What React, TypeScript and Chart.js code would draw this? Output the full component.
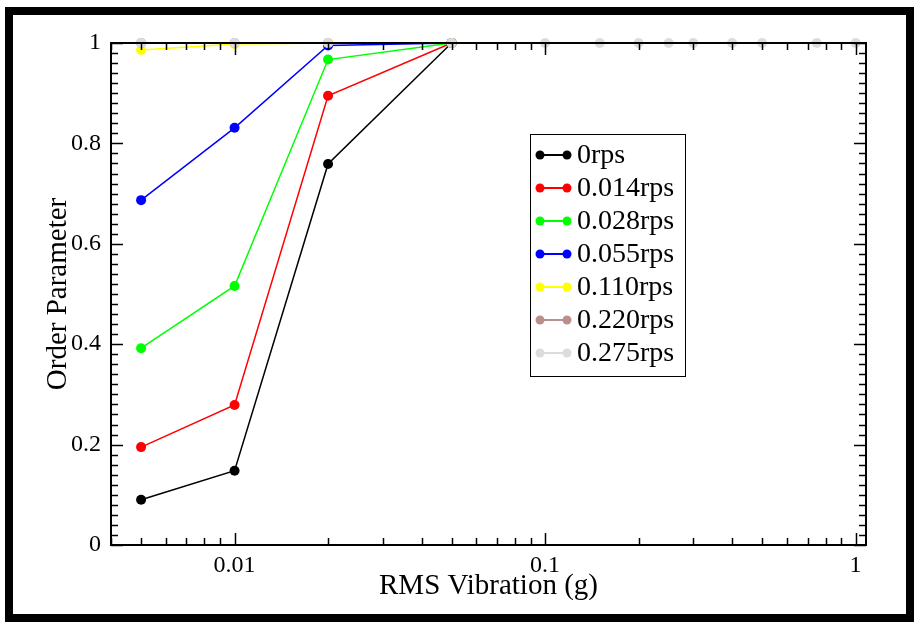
import React, { useEffect, useRef } from "react";
import { Chart, registerables } from "chart.js";

Chart.register(...registerables);

// ---- data ----
const xShort = [0.005, 0.01, 0.02, 0.05];
const xFull = [0.005, 0.01, 0.02, 0.05, 0.1, 0.15, 0.2, 0.25, 0.3, 0.4, 0.5, 0.75, 1.0];

const seriesLabels = ["0rps", "0.014rps", "0.028rps", "0.055rps", "0.110rps", "0.220rps", "0.275rps"];
const seriesColors = ["#000000", "#ff0000", "#00ff00", "#0000ff", "#ffff00", "#bc8f8f", "#dcdcdc"];

const rps0 = [0.09, 0.148, 0.759, 1.0];
const rps014 = [0.195, 0.279, 0.895, 1.0];
const rps028 = [0.392, 0.516, 0.967, 1.0];
const rps055 = [0.687, 0.831, 0.995, 1.0];
const rps110 = [0.986, 0.998, 1.0, 1.0];
const rps220 = [1.0, 1.0, 1.0, 1.0];
const rps275 = [1.0, 1.0, 1.0, 1.0, 1.0, 1.0, 1.0, 1.0, 1.0, 1.0, 1.0, 1.0, 1.0];

const xMajorTicks = [0.01, 0.1, 1];
const xMinorTicks = [
  0.004, 0.005, 0.006, 0.007, 0.008, 0.009,
  0.02, 0.03, 0.04, 0.05, 0.06, 0.07, 0.08, 0.09,
  0.2, 0.3, 0.4, 0.5, 0.6, 0.7, 0.8, 0.9,
];
const yMajorTicks = [0, 0.2, 0.4, 0.6, 0.8, 1];
const yMinorStep = 0.02;

const FONT = "'Liberation Serif', 'DejaVu Serif', serif";

const seriesValues = [rps0, rps014, rps028, rps055, rps110, rps220, rps275];
const seriesX = [xShort, xShort, xShort, xShort, xShort, xShort, xFull];

const axesPlugin = {
  id: "axesAndLegend",
  afterDatasetsDraw(chart: any) {
    const { ctx, chartArea } = chart;
    const { left, right, top, bottom } = chartArea;
    const xs = chart.scales.x;
    const ys = chart.scales.y;
    ctx.save();
    ctx.strokeStyle = "#000";
    ctx.lineWidth = 1.5;
    const majorLen = 12;
    const minorLen = 7;
    ctx.beginPath();
    const xt = (v: number, len: number) => {
      const p = Math.round(xs.getPixelForValue(v)) + 0.5;
      if (p < left - 1 || p > right + 1) return;
      ctx.moveTo(p, bottom);
      ctx.lineTo(p, bottom - len);
      ctx.moveTo(p, top);
      ctx.lineTo(p, top + len);
    };
    xMajorTicks.forEach((v) => xt(v, majorLen));
    xMinorTicks.forEach((v) => xt(v, minorLen));
    const yt = (v: number, len: number) => {
      const p = Math.round(ys.getPixelForValue(v)) + 0.5;
      ctx.moveTo(left, p);
      ctx.lineTo(left + len, p);
      ctx.moveTo(right, p);
      ctx.lineTo(right - len, p);
    };
    yMajorTicks.forEach((v) => yt(v, majorLen));
    for (let i = 1; i < 50; i++) {
      if (i % 10 === 0) continue;
      yt(i * yMinorStep, minorLen);
    }
    ctx.stroke();
    ctx.lineWidth = 2;
    ctx.strokeRect(left, top, right - left, bottom - top);

    // legend
    const lx = 530, ly = 134, lw = 155, lh = 242;
    ctx.fillStyle = "#fff";
    ctx.fillRect(lx, ly, lw, lh);
    ctx.lineWidth = 1;
    ctx.strokeStyle = "#000";
    ctx.strokeRect(lx + 0.5, ly + 0.5, lw, lh);
    ctx.font = `28px ${FONT}`;
    ctx.textBaseline = "middle";
    ctx.textAlign = "left";
    chart.data.datasets.forEach((ds: any, i: number) => {
      const cy = 155 + i * 33;
      ctx.strokeStyle = ds.borderColor;
      ctx.lineWidth = 2;
      ctx.beginPath();
      ctx.moveTo(540, cy);
      ctx.lineTo(567, cy);
      ctx.stroke();
      ctx.fillStyle = ds.borderColor;
      [540, 567].forEach((px) => {
        ctx.beginPath();
        ctx.arc(px, cy, 4.5, 0, Math.PI * 2);
        ctx.fill();
      });
      ctx.fillStyle = "#000";
      ctx.fillText(ds.label, 577, cy + 1);
    });
    ctx.restore();
  },
};

export default function App() {
  const ref = useRef<HTMLCanvasElement | null>(null);
  useEffect(() => {
    if (!ref.current) return;
    const datasets = seriesLabels.map((label, i) => ({
      label,
      data: seriesValues[i].map((y, j) => ({ x: seriesX[i][j], y })),
      borderColor: seriesColors[i],
      backgroundColor: seriesColors[i],
      pointBackgroundColor: seriesColors[i],
      pointBorderWidth: 0,
      pointRadius: 5,
      borderWidth: 1.5,
      showLine: true,
      fill: false,
      tension: 0,
      clip: false as any,
      order: seriesLabels.length - 1 - i,
    }));
    const chart = new Chart(ref.current, {
      type: "line",
      data: { datasets },
      options: {
        animation: false,
        responsive: false,
        devicePixelRatio: 1,
        layout: { padding: { left: 0, right: 48, top: 43, bottom: 0 } },
        plugins: { legend: { display: false }, tooltip: { enabled: false } },
        scales: {
          x: {
            type: "logarithmic",
            position: "bottom",
            min: 0.004,
            max: 1.08,
            grid: { display: false, drawTicks: false },
            border: { display: false },
            afterBuildTicks: (s: any) => {
              s.ticks = xMajorTicks.map((v) => ({ value: v }));
            },
            afterFit: (s: any) => {
              s.height = 77;
            },
            ticks: {
              autoSkip: false,
              maxRotation: 0,
              padding: 6,
              color: "#000",
              font: { family: FONT, size: 24 },
              callback: (v: any) => String(v),
            },
            title: {
              display: true,
              text: "RMS Vibration (g)",
              color: "#000",
              font: { family: FONT, size: 29 },
              padding: { top: 0, bottom: 18 },
            },
          },
          y: {
            type: "linear",
            min: 0,
            max: 1,
            grid: { display: false, drawTicks: false },
            border: { display: false },
            afterBuildTicks: (s: any) => {
              s.ticks = yMajorTicks.map((v) => ({ value: v }));
            },
            afterFit: (s: any) => {
              s.width = 111;
            },
            ticks: {
              autoSkip: false,
              padding: 10,
              color: "#000",
              font: { family: FONT, size: 24 },
              callback: (v: any) => String(v),
            },
            title: {
              display: true,
              text: "Order Parameter",
              color: "#000",
              font: { family: FONT, size: 29 },
              padding: { top: 41, bottom: 0 },
            },
          },
        },
      },
      plugins: [axesPlugin],
    });
    return () => chart.destroy();
  }, []);

  return (
    <div style={{ position: "absolute", left: 0, top: 0, width: 914, height: 622, background: "#fff", overflow: "hidden" }}>
      <canvas ref={ref} width={914} height={622} style={{ position: "absolute", left: 0, top: 0, width: 914, height: 622 }} />
      <div
        style={{
          position: "absolute",
          left: 5,
          top: 7,
          width: 909,
          height: 615,
          border: "8px solid #000",
          boxSizing: "border-box",
          pointerEvents: "none",
        }}
      />
    </div>
  );
}
